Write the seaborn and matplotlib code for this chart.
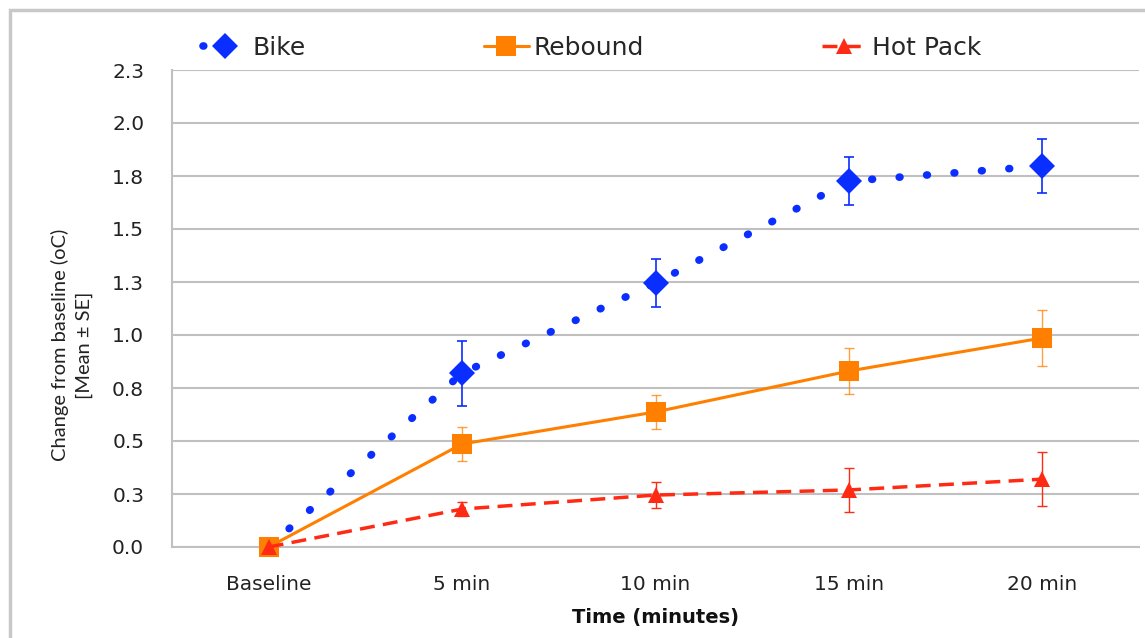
import numpy as np
import pandas as pd
import matplotlib
matplotlib.use("Agg")
import matplotlib.pyplot as plt
import seaborn as sns
from matplotlib.patches import Rectangle
from matplotlib.lines import Line2D

# chart values
time_labels = ["Baseline", "5 min", "10 min", "15 min", "20 min"]
bike = [0.0, 0.82, 1.245, 1.726, 1.797]
bike_se = [0.0, 0.153, 0.113, 0.115, 0.127]
rebound = [0.0, 0.486, 0.637, 0.83, 0.986]
rebound_se = [0.0, 0.078, 0.08, 0.11, 0.132]
hotpack = [0.0, 0.179, 0.245, 0.269, 0.32]
hotpack_se = [0.0, 0.035, 0.06, 0.106, 0.127]
ytick_vals = [0, 0.25, 0.5, 0.75, 1.0, 1.25, 1.5, 1.75, 2.0, 2.25]
ytick_labels = ["0.0", "0.3", "0.5", "0.8", "1.0", "1.3", "1.5", "1.8", "2.0", "2.3"]

sns.set_style("white")
plt.rcParams['font.family'] = ['DejaVu Sans']

BLUE = "#0A2EFF"
ORANGE = "#FF7F00"
RED = "#FF2A14"
GRID = "#C0C0C0"
TXT = "#222222"

bike_style = dict(color=BLUE, lw=5.5, linestyle=(0, (0.1, 3.5)), dash_capstyle="round",
                  marker="D", markersize=13, markeredgewidth=0)
reb_style = dict(color=ORANGE, lw=2.2, marker="s", markersize=14, markeredgewidth=0)
hot_style = dict(color=RED, lw=2.5, linestyle=(0, (4.3, 2.4)), marker="^",
                 markersize=12, markeredgewidth=0)

x = np.arange(len(time_labels))
df = pd.DataFrame({"x": x, "Bike": bike, "Rebound": rebound, "Hot Pack": hotpack})

fig = plt.figure(figsize=(11.45, 6.38), dpi=100)
ax = fig.add_axes([172 / 1145, 1 - 547 / 638, (1139 - 172) / 1145, (547 - 70) / 638])

# figure border
fig.patches.append(Rectangle((10 / 1145, -0.05), 1.2, 1 - 10 / 638 + 0.05,
                             transform=fig.transFigure, fill=False,
                             edgecolor="#C8C8C8", lw=2.5, zorder=0))

# Bike: big round dots, no marker at baseline
sns.lineplot(data=df, x="x", y="Bike", ax=ax, color=BLUE, lw=5.5, marker="D",
             markersize=13, markeredgewidth=0, legend=False, zorder=3)
bl = ax.lines[-1]
bl.set_linestyle(bike_style["linestyle"])
bl.set_dash_capstyle("round")
bl.set_markevery([1, 2, 3, 4])
ax.errorbar(x[1:], bike[1:], yerr=bike_se[1:], fmt="none", ecolor=BLUE,
            elinewidth=1.2, capsize=3.5, capthick=1.2, zorder=3)

sns.lineplot(data=df, x="x", y="Rebound", ax=ax, color=ORANGE, lw=2.2, marker="s",
             markersize=14, markeredgewidth=0, legend=False, zorder=4)
ax.errorbar(x[1:], rebound[1:], yerr=rebound_se[1:], fmt="none", ecolor=ORANGE,
            elinewidth=1.0, capsize=3.5, capthick=1.0, alpha=0.75, zorder=4)

sns.lineplot(data=df, x="x", y="Hot Pack", ax=ax, color=RED, lw=2.5, marker="^",
             markersize=12, markeredgewidth=0, legend=False, zorder=5)
ax.lines[-1].set_linestyle(hot_style["linestyle"])
ax.errorbar(x[1:], hotpack[1:], yerr=hotpack_se[1:], fmt="none", ecolor=RED,
            elinewidth=1.0, capsize=3.5, capthick=1.0, zorder=5)

for ln in ax.lines:
    ln.set_clip_on(False)

ax.set_xlim(-0.5, 4.5)
ax.set_ylim(0, 2.25)
ax.set_yticks(ytick_vals)
ax.set_yticklabels(ytick_labels, fontsize=14.5, color=TXT)
ax.set_xticks(x)
ax.set_xticklabels(time_labels, fontsize=14.5, color=TXT)
ax.tick_params(axis="x", length=0, pad=20)
ax.set_xticks(np.arange(-0.5, 4.6, 1), minor=True)
ax.tick_params(axis="x", which="minor", length=7, width=1.5, color=GRID, direction="out")
ax.tick_params(axis="y", length=9, width=1.5, color=GRID, direction="out", pad=11)

ax.yaxis.grid(True, color=GRID, lw=1.5)
ax.set_axisbelow(True)
for s in ["top", "right"]:
    ax.spines[s].set_visible(False)
for s in ["left", "bottom"]:
    ax.spines[s].set_color(GRID)
    ax.spines[s].set_linewidth(1.5)

ax.set_xlabel("Time (minutes)", fontsize=14, fontweight="bold", labelpad=10, color="#111111")
ax.set_ylabel("Change from baseline (oC)\n[Mean ± SE]", fontsize=14.5,
              family=["Lato", "DejaVu Sans"], color=TXT, linespacing=1.45)
ax.yaxis.set_label_coords((93 - 172) / 967, (547 - 345) / 477)

handles = [Line2D([], [], **bike_style), Line2D([], [], **reb_style),
           Line2D([], [], **hot_style)]
fig.legend(handles, ["Bike", "Rebound", "Hot Pack"], loc="center",
           bbox_to_anchor=(0.517, 1 - 48 / 638), ncol=3, frameon=False, fontsize=18,
           columnspacing=7.1, handlelength=1.8, handletextpad=0.2)

fig.savefig("out.png", dpi=100)
